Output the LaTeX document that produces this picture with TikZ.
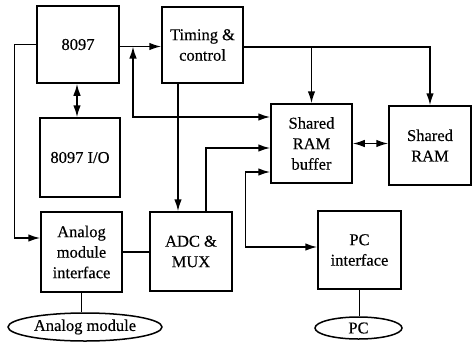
\documentclass[tikz,border=0pt]{standalone}
\usepackage{fontspec}
\setmainfont{Liberation Serif}
\newfontfamily\dfont{Liberation Serif}[FakeBold=0.4]
\usetikzlibrary{arrows.meta,shapes.geometric}
\begin{document}
\begin{tikzpicture}[x=1pt,y=-1pt,
  blk/.style={draw,line width=1.5pt,inner sep=0pt,align=center,
    font=\dfont\fontsize{16.5}{20.5}\selectfont},
  oval/.style={draw,ellipse,line width=1.5pt,inner sep=0pt,
    font=\dfont\fontsize{16.5}{20}\selectfont},
  conn/.style={line width=1.5pt},
  arr/.style={conn,-{Latex[length=12pt,width=7.5pt]}},
  darr/.style={conn,{Latex[length=12pt,width=7.5pt]}-{Latex[length=12pt,width=7.5pt]}}]
\useasboundingbox (0,0) rectangle (473,343);
\node[blk,minimum width=82pt,minimum height=77pt] (p8097) at (78,44.5) {8097};
\node[blk,minimum width=80pt,minimum height=79pt] (io) at (80,157.5) {8097 I/O};
\node[blk,minimum width=81pt,minimum height=76pt] (timing) at (202.5,45) {Timing \&\\control};
\node[blk,minimum width=81pt,minimum height=79pt] (srb) at (311.5,143.5) {Shared\\RAM\\buffer};
\node[blk,minimum width=82pt,minimum height=79pt] (sram) at (430,145.5) {Shared\\RAM};
\node[blk,minimum width=81pt,minimum height=80pt] (ami) at (81.5,252) {Analog\\module\\interface};
\node[blk,minimum width=82pt,minimum height=79pt] (adc) at (191,251.5) {ADC \&\\MUX};
\node[blk,minimum width=83pt,minimum height=78pt] (pci) at (359.5,250) {PC\\interface};
\node[oval,minimum width=154pt,minimum height=28pt] (am) at (85,327) {Analog module};
\node[oval,minimum width=87pt,minimum height=22pt] (pc) at (358.5,328) {PC};
% 8097 to analog module interface
\draw[arr] (p8097.west) -- ++(-22,0) |- ([yshift=14pt]ami.west);
% 8097 to timing
\draw[arr] ([yshift=-2pt]p8097.east) -- ([yshift=-2pt]p8097.east -| timing.west);
\coordinate (j1) at ([yshift=-2pt]p8097.east -| 133,0);
\draw[darr] (j1) |- ([yshift=26.5pt]srb.west);
% timing to ADC
\draw[arr] ([xshift=-24.5pt]timing.south) -- ([xshift=-24.5pt]timing.south |- adc.north);
% timing to shared RAM and buffer
\coordinate (tr) at ([yshift=-2pt]timing.east);
\draw[arr] (tr) -| (sram.north);
\draw[arr] (tr -| srb.north) -- (srb.north);
% ADC to buffer
\draw[arr] ([xshift=15pt]adc.north) |- ([yshift=-4.5pt]srb.west);
% 8097 <-> I/O
\draw[darr] ([xshift=-1pt]p8097.south) -- ([xshift=-1pt]p8097.south |- io.north);
% buffer <-> shared RAM
\draw[darr] (srb.east) -- (srb.east -| sram.west);
% buffer <-> PC interface
\draw[darr] ([yshift=-28.5pt]srb.west) -- ++(-25,0) |- ([yshift=3pt]pci.west);
% analog module interface -- ADC
\draw[conn] (ami.east) -- (ami.east -| adc.west);
\draw[conn] (ami.south) -- (ami.south |- am.north);
\draw[conn] (pci.south) -- (pci.south |- pc.north);
\end{tikzpicture}
\end{document}
